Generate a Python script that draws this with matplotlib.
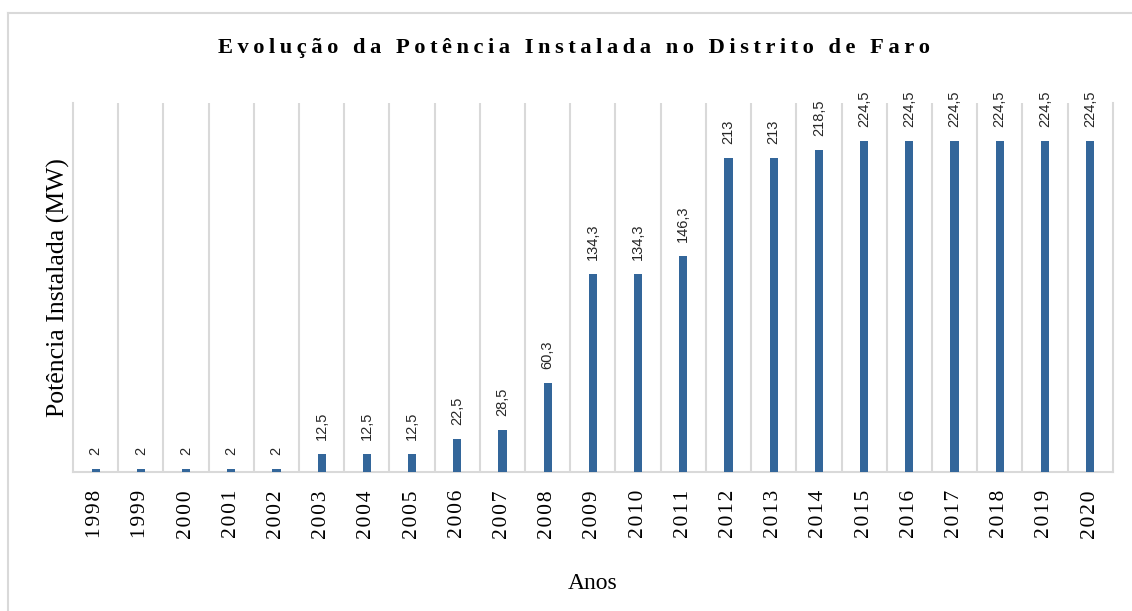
import matplotlib.pyplot as plt
from matplotlib.lines import Line2D

anos = ['1998', '1999', '2000', '2001', '2002', '2003', '2004', '2005', '2006', '2007', '2008',
        '2009', '2010', '2011', '2012', '2013', '2014', '2015', '2016', '2017', '2018', '2019', '2020']
potencia = [2, 2, 2, 2, 2, 12.5, 12.5, 12.5, 22.5, 28.5, 60.3,
            134.3, 134.3, 146.3, 213, 213, 218.5, 224.5, 224.5, 224.5, 224.5, 224.5, 224.5]

cor = '#33669a'
cinza = '#d9d9d9'
serif = ['Liberation Serif', 'DejaVu Serif']
hair = '\u200a'


def espacar(txt, sep=hair):
    return sep.join(txt)


fig = plt.figure(figsize=(11.32, 6.11), dpi=100)
ax = fig.add_axes([0.0645, 0.2275, 0.9185, 0.6039])

x = list(range(len(anos)))
ax.bar(x, potencia, width=0.18, color=cor, zorder=3)

for xi, v in zip(x, potencia):
    rot = ('%g' % v).replace('.', ',')
    ax.annotate(rot, (xi, v), xytext=(0, 10), textcoords='offset points',
                rotation=90, ha='center', va='bottom', fontsize=10.5,
                family=['Liberation Sans', 'DejaVu Sans'], color='#262626')

ax.set_xlim(-0.5, len(anos) - 0.5)
ax.set_ylim(0, 250)
ax.set_yticks([])
ax.set_xticks(x)
ax.set_xticklabels([espacar(a) for a in anos], rotation=90, family=serif, fontsize=15.5)
ax.tick_params(axis='x', length=0, pad=13)

# linhas verticais entre categorias
ax.set_xticks([i + 0.5 for i in x[:-1]], minor=True)
ax.tick_params(axis='x', which='minor', length=0)
ax.grid(True, axis='x', which='minor', color=cinza, linewidth=1.5, zorder=0)
ax.grid(False, axis='x', which='major')

ax.spines['top'].set_visible(False)
for s in ['left', 'right', 'bottom']:
    ax.spines[s].set_color(cinza)
    ax.spines[s].set_linewidth(1.5)

ax.set_xlabel('Anos', family=serif, fontsize=17, labelpad=25)
ax.set_ylabel('Potência Instalada (MW)', family=serif, fontsize=18.5, labelpad=2)

fig.text(0.5075, 0.922, espacar('Evolução da Potência Instalada no Distrito de Faro', '\u2009'),
         ha='center', va='center', family=serif, fontsize=16.2, fontweight='bold')

# moldura exterior
fig.add_artist(Line2D([8 / 1132, 8 / 1132], [0, 1 - 13 / 611], transform=fig.transFigure,
                      color=cinza, linewidth=1.5))
fig.add_artist(Line2D([8 / 1132, 1], [1 - 13 / 611, 1 - 13 / 611], transform=fig.transFigure,
                      color=cinza, linewidth=1.5))

fig.savefig('out.png', dpi=100)
